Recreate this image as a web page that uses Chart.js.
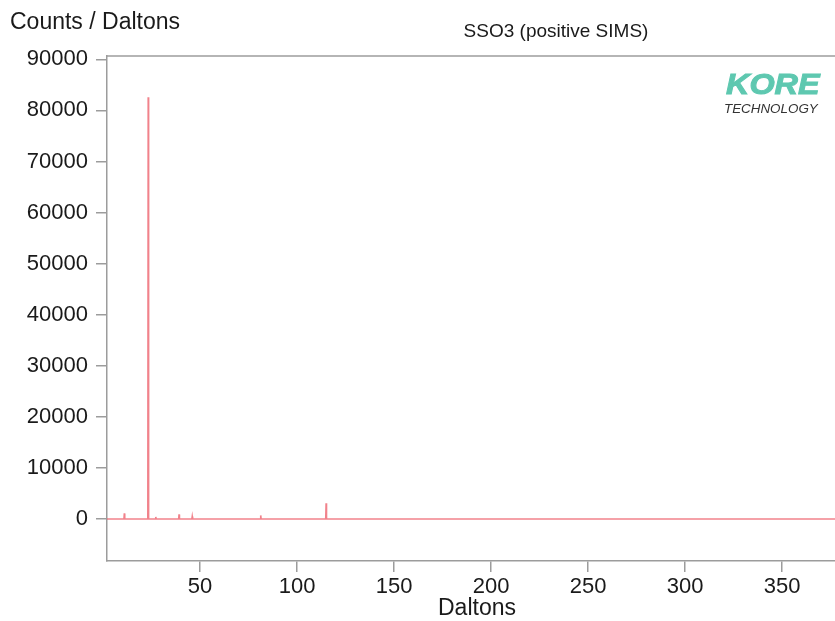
<!DOCTYPE html>
<html>
<head>
<meta charset="utf-8">
<title>SSO3 (positive SIMS)</title>
<script src="https://cdn.jsdelivr.net/npm/chart.js@4.4.0/dist/chart.umd.min.js"></script>
<style>
  html, body { margin: 0; padding: 0; background: #ffffff; }
  #wrap { width: 835px; height: 621px; }
</style>
</head>
<body>
<div id="wrap"><canvas id="spectrum" width="835" height="621"></canvas></div>
<script>
// --- datos del espectro ---
const masses = [2, 10.8, 11.0, 11.2, 23.1, 23.3, 23.5, 27.0, 27.2, 27.4, 39.0, 39.2, 39.4,
                45.8, 46.0, 46.2, 81.1, 81.3, 81.5, 114.8, 115.0, 115.2, 377.3];
const counts = [0, 0, 1100, 0, 0, 82560, 0, 0, 400, 0, 0, 900, 0,
                0, 500, 0, 0, 700, 0, 0, 3100, 0, 0];
const yTicks = [0, 10000, 20000, 30000, 40000, 50000, 60000, 70000, 80000, 90000];
const xTicks = [50, 100, 150, 200, 250, 300, 350];

const yTitle = 'Counts / Daltons';
const xTitle = 'Daltons';
const chartTitle = 'SSO3 (positive SIMS)';

const axisColor = '#9c9c9c';
const textColor = '#1a1a1a';
const fontFamily = '"Liberation Sans", Arial, sans-serif';

const points = masses.map((m, i) => ({ x: m, y: counts[i] }));

// textos y logo dibujados encima
const overlay = {
    id: 'overlay',
    afterDraw(chart) {
        const ctx = chart.ctx;
        const a = chart.chartArea;
        ctx.save();
        // borde superior
        ctx.strokeStyle = axisColor;
        ctx.lineWidth = 1.5;
        ctx.beginPath();
        ctx.moveTo(a.left, a.top);
        ctx.lineTo(a.right, a.top);
        ctx.stroke();

        ctx.fillStyle = textColor;
        ctx.textBaseline = 'middle';
        ctx.font = '23px ' + fontFamily;
        ctx.textAlign = 'left';
        ctx.fillText(yTitle, 10, 23);
        ctx.textAlign = 'center';
        ctx.fillText(xTitle, 477, 609);
        ctx.font = '19px ' + fontFamily;
        ctx.fillText(chartTitle, 556, 32);

        // logo
        ctx.textAlign = 'left';
        ctx.textBaseline = 'alphabetic';
        ctx.save();
        ctx.translate(726, 94);
        ctx.scale(1.08, 1);
        ctx.fillStyle = '#5ec8b0';
        ctx.strokeStyle = '#5ec8b0';
        ctx.lineWidth = 1;
        ctx.font = 'italic bold 30px ' + fontFamily;
        ctx.fillText('KORE', 0, 0);
        ctx.strokeText('KORE', 0, 0);
        ctx.restore();
        ctx.fillStyle = '#333333';
        ctx.font = 'italic 13.4px ' + fontFamily;
        ctx.fillText('TECHNOLOGY', 724, 112.5);
        ctx.restore();
    }
};

const chart = new Chart(document.getElementById('spectrum'), {
    type: 'line',
    data: {
        datasets: [{
            data: points,
            borderColor: 'rgba(236, 88, 100, 0.75)',
            borderWidth: 1.6,
            pointRadius: 0,
            tension: 0,
            fill: false
        }]
    },
    options: {
        responsive: false,
        animation: false,
        devicePixelRatio: 1,
        layout: { padding: { left: 0, top: 56, right: 0, bottom: 0 } },
        plugins: { legend: { display: false }, tooltip: { enabled: false }, title: { display: false } },
        scales: {
            x: {
                type: 'linear',
                min: 2.06,
                max: 377.3,
                afterFit: (s) => { s.height = 60; },
                afterBuildTicks: (s) => { s.ticks = xTicks.map(v => ({ value: v })); },
                grid: { drawOnChartArea: false, drawTicks: true, tickLength: 11, color: axisColor, lineWidth: 1.5 },
                border: { display: true, color: axisColor, width: 1.5 },
                ticks: { color: textColor, font: { family: fontFamily, size: 22 }, padding: 2, maxRotation: 0,
                         callback: (v) => String(v) }
            },
            y: {
                type: 'linear',
                min: -8222,
                max: 90644,
                afterFit: (s) => { s.width = 107; },
                afterBuildTicks: (s) => { s.ticks = yTicks.map(v => ({ value: v })); },
                grid: { drawOnChartArea: false, drawTicks: true, tickLength: 11, color: axisColor, lineWidth: 1.5 },
                border: { display: true, color: axisColor, width: 1.5 },
                ticks: { color: textColor, font: { family: fontFamily, size: 22 }, padding: 8,
                         callback: (v) => String(v) }
            }
        }
    },
    plugins: [overlay]
});
</script>
</body>
</html>
